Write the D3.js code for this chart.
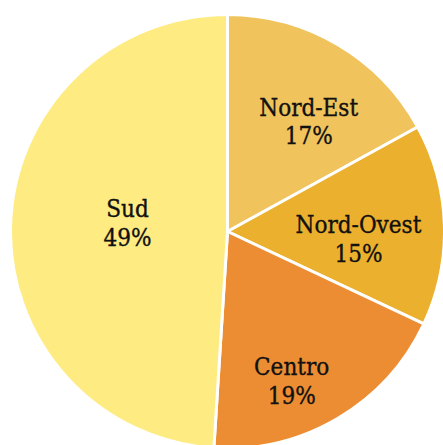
<!DOCTYPE html>
<meta charset="utf-8">
<head>
    <style>
        body {
            margin: 0;
            background: white;
        }

        .label {
            font-family: "DejaVu Serif Condensed", "DejaVu Serif", serif;
            font-size: 24px;
            fill: #111;
            stroke: #111;
            stroke-width: 0.35px;
        }
    </style>
</head>

<body>
    <script src="https://d3js.org/d3.v7.min.js"></script>
    <div id="chart"></div>

    <script>
        // data
        var regions = ["Nord-Est", "Nord-Ovest", "Centro", "Sud"];
        var shares = [17, 15, 19, 49];
        var colors = ["#f0c35c", "#ebb02d", "#ec8d33", "#feeb82"];

        // small label nudges (px) from the label arc
        var labelDx = [15, 1, -2, 30];
        var labelDy = [-4, 6, 32, -10];

        var width = 443,
            height = 445,
            radius = 217,
            cx = 227.5,
            cy = 231.5;

        var svg = d3.select("#chart").append("svg")
            .attr("width", width)
            .attr("height", height)
            .append("g")
            .attr("transform", "translate(" + cx + "," + cy + ")");

        var pie = d3.pie().sort(null).value(function (d) { return d; });
        var arcs = pie(shares);

        var arc = d3.arc().innerRadius(0).outerRadius(radius);
        var labelArc = d3.arc().innerRadius(130).outerRadius(130);

        // slices
        svg.selectAll("path")
            .data(arcs)
            .enter()
            .append("path")
            .attr("d", arc)
            .attr("fill", function (d, i) { return colors[i]; })
            .attr("stroke", "white")
            .attr("stroke-width", 3)
            .attr("stroke-linejoin", "round");

        // labels
        var labels = svg.selectAll("text")
            .data(arcs)
            .enter()
            .append("text")
            .attr("class", "label")
            .attr("text-anchor", "middle")
            .attr("transform", function (d, i) {
                var c = labelArc.centroid(d);
                return "translate(" + (c[0] + labelDx[i]) + "," + (c[1] + labelDy[i]) + ")";
            });

        labels.append("tspan")
            .attr("x", 0)
            .attr("y", 0)
            .text(function (d, i) { return regions[i]; });

        labels.append("tspan")
            .attr("x", 0)
            .attr("y", 28.5)
            .text(function (d) { return d.data + "%"; });
    </script>
</body>
